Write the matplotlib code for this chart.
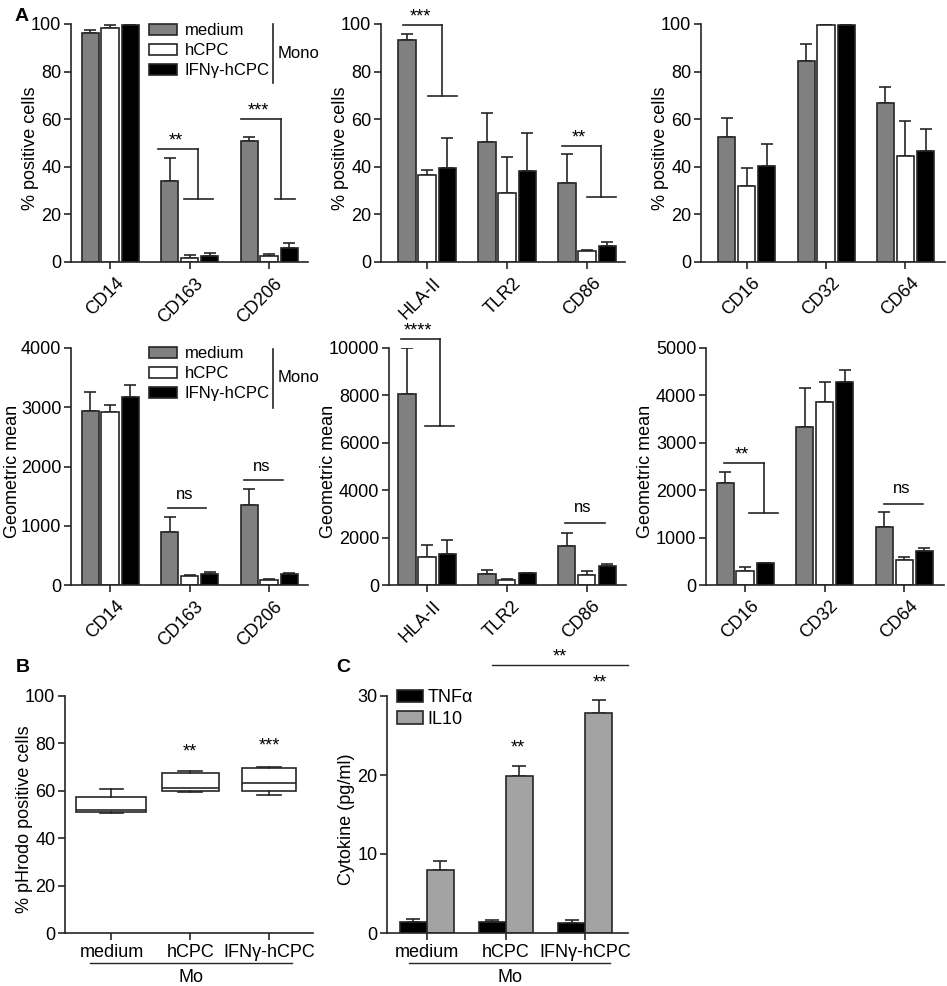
import numpy as np
import matplotlib
matplotlib.use('Agg')
import matplotlib.pyplot as plt
import matplotlib.transforms as mtransforms
from matplotlib.patches import Patch
from matplotlib.lines import Line2D

plt.rcParams['font.family'] = ['Liberation Sans', 'DejaVu Sans']

W, H = 947, 986
EDGE = '#262626'
FS = 13

# ---- data ----
treatments = ['medium', 'hCPC', 'IFN\u03b3-hCPC']
bar_colors = ['#808080', 'white', 'black']

markers_a1 = ['CD14', 'CD163', 'CD206']
markers_a2 = ['HLA-II', 'TLR2', 'CD86']
markers_a3 = ['CD16', 'CD32', 'CD64']

# % positive cells (rows: medium, hCPC, IFNg-hCPC)
pos_a1 = [[96.2, 34.0, 50.8], [98.2, 1.8, 2.4], [99.7, 2.5, 5.9]]
pos_a1_err = [[1.1, 9.8, 1.9], [1.2, 1.0, 0.8], [0.0, 1.3, 2.2]]
pos_a2 = [[93.4, 50.3, 33.1], [36.5, 28.8, 4.6], [39.5, 38.3, 6.7]]
pos_a2_err = [[2.5, 12.1, 12.1], [2.3, 15.3, 0.3], [12.7, 16.1, 1.6]]
pos_a3 = [[52.7, 84.4, 66.6], [32.0, 99.4, 44.5], [40.4, 99.4, 46.8]]
pos_a3_err = [[7.8, 7.3, 6.9], [7.7, 0.1, 14.9], [9.2, 0.0, 9.2]]

# geometric mean
mfi_a1 = [[2941, 890, 1358], [2918, 146, 90], [3166, 186, 186]]
mfi_a1_err = [[310, 254, 265], [124, 17, 17], [209, 28, 11]]
mfi_a2 = [[8042, 451, 1634], [1197, 211, 423], [1310, 521, 789]]
mfi_a2_err = [[1958, 169, 577], [507, 43, 154], [591, 0, 112]]
mfi_a3 = [[2155, 3338, 1232], [303, 3866, 528], [458, 4289, 711]]
mfi_a3_err = [[232, 810, 317], [70, 409, 64], [14, 253, 71]]

# B: pHrodo box plots (whislo, q1, med, q3, whishi)
phrodo_medium = [50.8, 51.0, 51.8, 57.3, 60.7]
phrodo_hcpc = [59.6, 59.8, 61.3, 67.4, 68.4]
phrodo_ifn = [58.1, 60.0, 63.2, 69.8, 70.2]

# C: cytokines
tnf = [1.4, 1.35, 1.26]
tnf_err = [0.35, 0.35, 0.4]
il10 = [8.0, 19.85, 27.85]
il10_err = [1.15, 1.25, 1.65]

# significance: (x_left, y_top, x_vert, y_low, x_low0, x_low1, label)
sig_a1 = [(0.61, 47.5, 1.11, 26.3, 0.93, 1.30, '**'),
          (1.65, 60.1, 2.15, 26.3, 2.08, 2.33, '***')]
sig_a2 = [(-0.30, 99.7, 0.19, 69.9, 0.01, 0.375, '***'),
          (1.69, 48.7, 2.175, 27.5, 2.0, 2.36, '**')]
sig_m1 = [(0.725, 1301, 1.21, None, None, None, 'ns'),
          (1.69, 1775, 2.175, None, None, None, 'ns')]
sig_m2 = [(-0.325, 10380, 0.16, 6718, -0.025, 0.34, '****'),
          (1.73, 2634, 2.225, None, None, None, 'ns')]
sig_m3 = [(-0.26, 2570, 0.24, 1528, 0.05, 0.42, '**'),
          (1.75, 1718, 2.24, None, None, None, 'ns')]


def px_axes(x0, x1, y0, y1):
    return fig.add_axes([x0 / W, 1 - y1 / H, (x1 - x0) / W, (y1 - y0) / H])


def style(ax):
    for s in ['top', 'right']:
        ax.spines[s].set_visible(False)
    for s in ['left', 'bottom']:
        ax.spines[s].set_color(EDGE)
        ax.spines[s].set_linewidth(1.2)
    ax.tick_params(direction='out', length=5, width=1.2, color=EDGE,
                   labelsize=FS, pad=2)


def label_y(ax, text, xpix, x0, x1):
    ax.set_ylabel(text, fontsize=FS)
    ax.yaxis.set_label_coords((xpix - x0) / (x1 - x0), 0.48)


def stars(ax, x, y, s):
    if s == 'ns':
        ax.annotate(s, (x, y), xytext=(0, 4), textcoords='offset points',
                    ha='center', va='baseline', fontsize=12, annotation_clip=False)
    else:
        ax.annotate(s, (x, y), xytext=(0, -1), textcoords='offset points',
                    ha='center', va='baseline', fontsize=13, annotation_clip=False)


def bar_panel(box, xlim, ylim, yticks, vals, errs, markers, ylabel, lab_x, sigs,
              star_dy):
    x0, x1, y0, y1 = box
    ax = px_axes(x0, x1, y0, y1)
    style(ax)
    x = np.arange(len(markers))
    offs = [-0.25, 0.0, 0.255]
    for i in range(3):
        ax.errorbar(x + offs[i], vals[i], yerr=[np.zeros(3), errs[i]], fmt='none',
                    ecolor=EDGE, elinewidth=1.2, capsize=4, capthick=1.2, zorder=1)
        ax.bar(x + offs[i], vals[i], 0.215, color=bar_colors[i], edgecolor=EDGE,
               linewidth=1.2, zorder=2)
    ax.set_xlim(*xlim)
    ax.set_ylim(*ylim)
    ax.set_yticks(yticks)
    ax.set_xticks(x)
    ax.set_xticklabels(markers, rotation=45, ha='right', va='center',
                       rotation_mode='anchor')
    shift = mtransforms.ScaledTranslation(11 / 100, -9 / 100, fig.dpi_scale_trans)
    for t in ax.get_xticklabels():
        t.set_transform(t.get_transform() + shift)
    label_y(ax, ylabel, lab_x, x0, x1)
    for xl, yt, xv, yl, xa, xb, s in sigs:
        ax.plot([xl, xv], [yt, yt], color=EDGE, lw=1.2, clip_on=False)
        if yl is not None:
            ax.plot([xv, xv], [yt, yl], color=EDGE, lw=1.2, clip_on=False)
            ax.plot([xa, xb], [yl, yl], color=EDGE, lw=1.2, clip_on=False)
        stars(ax, (xl + xv) / 2 - 0.03, yt + star_dy, s)
    return ax


def mono_legend(ax, ytop, line_y0, line_y1, mono_y):
    handles = [Patch(facecolor=c, edgecolor=EDGE, linewidth=1.2) for c in bar_colors]
    ax.legend(handles, treatments, loc='upper left',
              bbox_to_anchor=(149 / W, 1 - ytop / H), bbox_transform=fig.transFigure,
              frameon=False, fontsize=12, handlelength=1.65, handleheight=0.62,
              handletextpad=0.5, labelspacing=0.3, borderpad=0, borderaxespad=0)
    fig.add_artist(Line2D([273 / W, 273 / W], [1 - line_y0 / H, 1 - line_y1 / H],
                          transform=fig.transFigure, color=EDGE, lw=1.2))
    fig.text(278 / W, 1 - mono_y / H, 'Mono', fontsize=12, va='center')


fig = plt.figure(figsize=(W / 100, H / 100), dpi=100)

pct_ticks = [0, 20, 40, 60, 80, 100]
a1 = bar_panel((71, 308, 24, 262), (-0.49, 2.49), (0, 100), pct_ticks, pos_a1,
               pos_a1_err, markers_a1, '% positive cells', 39, sig_a1, 2)
mono_legend(a1, 23, 24, 83, 53)
bar_panel((381, 625, 24, 262), (-0.575, 2.475), (0, 100), pct_ticks, pos_a2,
          pos_a2_err, markers_a2, '% positive cells', 349, sig_a2, 2)
bar_panel((701, 945, 24, 262), (-0.575, 2.5), (0, 100), pct_ticks, pos_a3,
          pos_a3_err, markers_a3, '% positive cells', 669, [], 2)

m1 = bar_panel((71, 308, 348, 585), (-0.49, 2.49), (0, 4000),
               [0, 1000, 2000, 3000, 4000], mfi_a1, mfi_a1_err, markers_a1,
               'Geometric mean', 21, sig_m1, 60)
mono_legend(m1, 346, 349, 408, 378)
bar_panel((389, 626, 348, 585), (-0.475, 2.49), (0, 10000),
          [0, 2000, 4000, 6000, 8000, 10000], mfi_a2, mfi_a2_err, markers_a2,
          'Geometric mean', 337, sig_m2, 200)
bar_panel((706, 944, 348, 585), (-0.49, 2.5), (0, 5000),
          [0, 1000, 2000, 3000, 4000, 5000], mfi_a3, mfi_a3_err, markers_a3,
          'Geometric mean', 654, sig_m3, 100)

# ---- B ----
bx0, bx1 = 65, 313
axb = px_axes(bx0, bx1, 696, 933)
style(axb)
stats = []
for name, v in zip(treatments, [phrodo_medium, phrodo_hcpc, phrodo_ifn]):
    stats.append(dict(label=name, whislo=v[0], q1=v[1], med=v[2], q3=v[3],
                      whishi=v[4], fliers=[]))
axb.bxp(stats, positions=[0, 1, 2], widths=[0.89, 0.72, 0.68],
        capwidths=[0.3, 0.3, 0.3], showfliers=False, patch_artist=True,
        boxprops=dict(facecolor='white', edgecolor=EDGE, linewidth=1.2),
        whiskerprops=dict(color=EDGE, linewidth=1.2),
        capprops=dict(color=EDGE, linewidth=1.2),
        medianprops=dict(color=EDGE, linewidth=1.2))
axb.set_xlim(-0.59, 2.56)
axb.set_ylim(0, 100)
axb.set_yticks(pct_ticks)
axb.set_xticks([0, 1, 2])
axb.set_xticklabels(treatments)
axb.tick_params(axis='x', pad=3)
label_y(axb, '% pHrodo positive cells', 33, bx0, bx1)
stars(axb, 1, 75, '**')
stars(axb, 2, 77.5, '***')
fig.add_artist(Line2D([90 / W, 292 / W], [1 - 963 / H] * 2,
                      transform=fig.transFigure, color=EDGE, lw=1.0))
fig.text(191 / W, 1 - 977 / H, 'Mo', fontsize=FS, ha='center', va='center')

# ---- C ----
cx0, cx1 = 387, 628
axc = px_axes(cx0, cx1, 696, 933)
style(axc)
xc = np.arange(3)
axc.errorbar(xc - 0.17, tnf, yerr=[np.zeros(3), tnf_err], fmt='none', ecolor=EDGE,
             elinewidth=1.2, capsize=5, capthick=1.2, zorder=1)
axc.errorbar(xc + 0.17, il10, yerr=[np.zeros(3), il10_err], fmt='none', ecolor=EDGE,
             elinewidth=1.2, capsize=5, capthick=1.2, zorder=1)
axc.bar(xc - 0.17, tnf, 0.34, color='black', edgecolor=EDGE, linewidth=1.2,
        zorder=2, label='TNF\u03b1')
axc.bar(xc + 0.17, il10, 0.34, color='#a3a3a3', edgecolor=EDGE, linewidth=1.2,
        zorder=2, label='IL10')
axc.set_xlim(-0.5, 2.54)
axc.set_ylim(0, 30)
axc.set_yticks([0, 10, 20, 30])
axc.set_xticks(xc)
axc.set_xticklabels(treatments)
axc.tick_params(axis='x', pad=3)
label_y(axc, 'Cytokine (pg/ml)', 355, cx0, cx1)
axc.legend(loc='upper left', bbox_to_anchor=(397 / W, 1 - 689 / H),
           bbox_transform=fig.transFigure, frameon=False, fontsize=FS,
           handlelength=1.45, handleheight=0.67, handletextpad=0.25,
           labelspacing=0.27, borderpad=0, borderaxespad=0)
stars(axc, 1.15, 23.0, '**')
stars(axc, 2.19, 31.2, '**')
axc.plot([0.82, 2.54], [33.9, 33.9], color=EDGE, lw=1.0, clip_on=False)
stars(axc, 1.68, 34.6, '**')
fig.add_artist(Line2D([409 / W, 610 / W], [1 - 963 / H] * 2,
                      transform=fig.transFigure, color=EDGE, lw=1.0))
fig.text(510 / W, 1 - 977 / H, 'Mo', fontsize=FS, ha='center', va='center')

# panel letters
fig.text(15 / W, 1 - 8 / H, 'A', fontsize=14, weight='bold', va='top')
fig.text(16 / W, 1 - 659 / H, 'B', fontsize=14, weight='bold', va='top')
fig.text(336 / W, 1 - 659 / H, 'C', fontsize=14, weight='bold', va='top')

fig.savefig('out.png', dpi=100)
